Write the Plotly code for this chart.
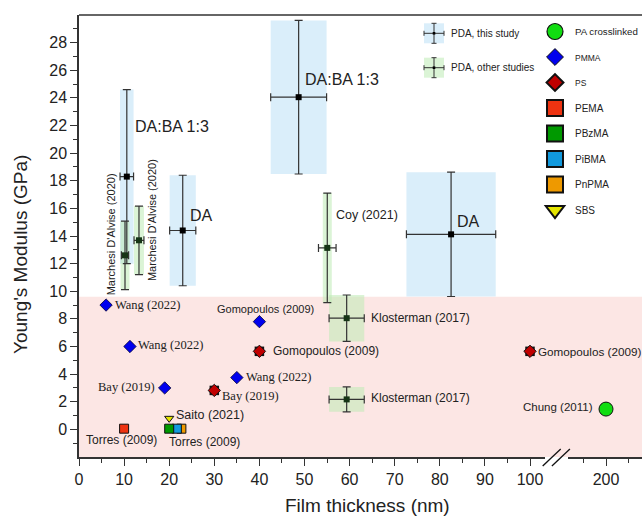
import plotly.graph_objects as go

# ---------------- data ----------------
# PDA, this study (points with x/y uncertainty)
study_labels = ["DA:BA 1:3", "DA", "DA:BA 1:3", "DA"]
study_x = [10.6, 23.0, 48.7, 82.5]
study_y = [18.3, 14.4, 24.05, 14.12]
study_xerr = [1.5, 2.9, 6.2, 9.9]
study_yerr = [6.3, 4.0, 5.56, 4.5]

# PDA, other studies
other_labels = ["Marchesi D'Alvise (2020)", "Marchesi D'Alvise (2020)", "Coy (2021)",
                "Klosterman (2017)", "Klosterman (2017)"]
other_x = [10.2, 13.3, 55.05, 59.35, 59.35]
other_y = [12.6, 13.69, 13.14, 8.05, 2.17]
other_xerr = [0.8, 1.1, 1.95, 3.9, 3.9]
other_yerr = [2.48, 2.48, 3.97, 1.68, 0.9]
other_box_halfwidth = [1.0, 1.1, 1.0, 3.9, 3.9]

# Other polymers
pmma_x = [6, 11.3, 19, 35, 40]
pmma_y = [9.0, 6.0, 3.0, 3.75, 7.8]
pmma_labels = ["Wang (2022)", "Wang (2022)", "Bay (2019)", "Wang (2022)", "Gomopoulos (2009)"]

ps_x = [40, 30, 100]
ps_y = [5.65, 2.82, 5.65]
ps_labels = ["Gomopoulos (2009)", "Bay (2019)", "Gomopoulos (2009)"]

pema_x, pema_y = [10], [0.05]
pbzma_x, pbzma_y = [20], [0.05]
pibma_x, pibma_y = [21.7], [0.05]
pnpma_x, pnpma_y = [22.7], [0.05]
torres_label = "Torres (2009)"

sbs_x, sbs_y = [20], [0.8]
sbs_label = "Saito (2021)"

pa_x, pa_y = [200], [1.47]
pa_label = "Chung (2011)"

x_ticks_main = list(range(0, 101, 10))
x_minor_main = list(range(5, 100, 10))
x_ticks_break = [200]
x_minor_break = [195, 205]
y_ticks = list(range(0, 29, 2))
y_minor = list(range(-1, 30, 2))

# ---------------- style ----------------
SANS = "Liberation Sans, Arial, sans-serif"
SERIF = "Liberation Serif, Times New Roman, serif"
INK = "#222222"
AX = "#333333"
BLUE_BOX = "#daeefa"
GREEN_BOX = "rgba(190,235,180,0.55)"
PINK = "#fce6e4"

W, H = 642, 516
ML, MR, MT, MB = 79, 0, 15, 59
PW, PH = W - ML - MR, H - MT - MB
PX_PER_UNIT = 4.51
BREAK_L, BREAK_R = 545, 568   # pixel edges of axis break
X1_END = (BREAK_L - ML) / PX_PER_UNIT
X2_START = 200 - (606 - BREAK_R) / PX_PER_UNIT
X2_END = 200 + (W - MR - 606) / PX_PER_UNIT


def px(xp):
    return (xp - ML) / PW


def py(yp):
    return (MT + PH - yp) / PH


fig = go.Figure()
shapes = []
annotations = []

# pink background region (other polymers)
shapes.append(dict(type="rect", xref="paper", yref="y", x0=0, x1=1, y0=-2, y1=9.6,
                   fillcolor=PINK, line=dict(width=0), layer="below"))

# uncertainty boxes
for x, y, dx, dy in zip(study_x, study_y, study_xerr, study_yerr):
    shapes.append(dict(type="rect", xref="x", yref="y", x0=x - dx, x1=x + dx, y0=y - dy, y1=y + dy,
                       fillcolor=BLUE_BOX, line=dict(width=0), layer="below"))
for x, y, dx, dy in zip(other_x, other_y, other_box_halfwidth, other_yerr):
    shapes.append(dict(type="rect", xref="x", yref="y", x0=x - dx, x1=x + dx, y0=y - dy, y1=y + dy,
                       fillcolor=GREEN_BOX, line=dict(width=0), layer="below"))

err_style = dict(color=AX, thickness=1.2, width=4)

fig.add_trace(go.Scatter(
    x=study_x, y=study_y, mode="markers", showlegend=False,
    marker=dict(symbol="square", size=6, color="#000000"),
    error_x=dict(type="data", array=study_xerr, **err_style),
    error_y=dict(type="data", array=study_yerr, **err_style)))
fig.add_trace(go.Scatter(
    x=other_x, y=other_y, mode="markers", showlegend=False,
    marker=dict(symbol="square", size=6, color="#163516"),
    error_x=dict(type="data", array=other_xerr, **err_style),
    error_y=dict(type="data", array=other_yerr, **err_style)))

# polymers (data traces)
fig.add_trace(go.Scatter(x=pmma_x, y=pmma_y, mode="markers", showlegend=False,
                         marker=dict(symbol="diamond", size=9.5, color="#0000ee",
                                     line=dict(color="#000033", width=0.8))))
fig.add_trace(go.Scatter(x=ps_x, y=ps_y, mode="markers", showlegend=False,
                         marker=dict(symbol="square", size=9.5, color="#111111")))
fig.add_trace(go.Scatter(x=ps_x, y=ps_y, mode="markers", showlegend=False,
                         marker=dict(symbol="diamond", size=9.5, color="#c00000",
                                     line=dict(color="#111111", width=1))))
sq_line = dict(color="#111111", width=1)
fig.add_trace(go.Scatter(x=pema_x, y=pema_y, mode="markers", showlegend=False,
                         marker=dict(symbol="square", size=9, color="#ee3311", line=sq_line)))
fig.add_trace(go.Scatter(x=pnpma_x, y=pnpma_y, mode="markers", showlegend=False,
                         marker=dict(symbol="square", size=9, color="#ee9900", line=sq_line)))
fig.add_trace(go.Scatter(x=pibma_x, y=pibma_y, mode="markers", showlegend=False,
                         marker=dict(symbol="square", size=9, color="#1199dd", line=sq_line)))
fig.add_trace(go.Scatter(x=pbzma_x, y=pbzma_y, mode="markers", showlegend=False,
                         marker=dict(symbol="square", size=9, color="#009900", line=sq_line)))
fig.add_trace(go.Scatter(x=sbs_x, y=sbs_y, mode="markers", showlegend=False,
                         marker=dict(symbol="triangle-down", size=8, color="#e5e500",
                                     line=dict(color="#111111", width=1))))
fig.add_trace(go.Scatter(x=pa_x, y=pa_y, mode="markers", showlegend=False, xaxis="x2",
                         marker=dict(symbol="circle", size=14, color="#11dd11",
                                     line=dict(color="#111111", width=1))))

# legend-only entries (larger symbols, as in the reference legend)
legend_items = [
    ("PA crosslinked", 9.7, "circle", 16, "#11dd11", 1.2),
    ("PMMA", 8.5, "diamond", 13, "#0000ee", 1),
    ("PS", 8.5, "diamond", 13, "#c00000", 2),
    ("PEMA", 10, "square", 16, "#ee3311", 2),
    ("PBzMA", 10, "square", 16, "#009900", 2),
    ("PiBMA", 10, "square", 16, "#1199dd", 2),
    ("PnPMA", 10, "square", 16, "#ee9900", 2),
    ("SBS", 10, "triangle-down", 16, "#e5e500", 2),
]
for i, (name, fs, sym, size, col, lw) in enumerate(legend_items):
    fig.add_trace(go.Scatter(
        x=[None], y=[None], mode="markers", legendgroup=f"g{i}",
        name=f"<span style='font-size:{fs}px'>{name}</span>",
        marker=dict(symbol=sym, size=size, color=col, line=dict(color="#111111", width=lw))))


# ---------------- labels ----------------
def label(text, x, y, dx, dy, anchor="left", size=12, family=SANS, xref="x", angle=0):
    annotations.append(dict(text=text, x=x, y=y, xref=xref, yref="y", xanchor=anchor,
                            yanchor="middle", xshift=dx, yshift=dy, showarrow=False,
                            textangle=angle, font=dict(family=family, size=size, color=INK)))


study_off = [(6, 50), (5, 15), (4, 18), (4, 13)]
for t, x, y, (dx, dy) in zip(study_labels, study_x, study_y, study_off):
    label(t, x, y, dx, dy, size=16)

other_off = [(-14.5, 20.5, "center", -90, 11), (12.3, 20.5, "center", -90, 11),
             (7, 33, "left", 0, 12.5), (22, 0, "left", 0, 12), (22, 1, "left", 0, 12)]
for t, x, y, (dx, dy, a, ang, fs) in zip(other_labels, other_x, other_y, other_off):
    label(t, x, y, dx, dy, anchor=a, angle=ang, size=fs)

pmma_off = [(6.5, 0, "left", SERIF, 12.5), (6.5, 2, "left", SERIF, 12.5), (-8, 1, "right", SERIF, 12.5),
            (7, 1, "left", SERIF, 12.5), (5.6, 13, "center", SANS, 11)]
for t, x, y, (dx, dy, a, fam, fs) in zip(pmma_labels, pmma_x, pmma_y, pmma_off):
    label(t, x, y, dx, dy, anchor=a, family=fam, size=fs)

ps_off = [(12, 0, SANS, 12), (6, -6, SERIF, 12.5), (5.5, 0, SANS, 11.7)]
for t, x, y, (dx, dy, fam, fs) in zip(ps_labels, ps_x, ps_y, ps_off):
    label(t, x, y, dx, dy, family=fam, size=fs)

label(torres_label, pema_x[0], pema_y[0], -2.6, -11, anchor="center", size=12)
label(torres_label, pbzma_x[0], pbzma_y[0], -2.5, -13, anchor="left", size=12)
label(sbs_label, sbs_x[0], sbs_y[0], 5, 3, size=12.5)
label(pa_label, pa_x[0], pa_y[0], -11, 2, anchor="right", size=11.5, xref="x2")

# axis titles
annotations.append(dict(text="Film thickness (nm)", x=px(367), y=py(505), xref="paper", yref="paper",
                        xanchor="center", yanchor="middle", showarrow=False,
                        font=dict(family=SANS, size=19, color=INK)))
annotations.append(dict(text="Young's Modulus (GPa)", x=px(20), y=py(255), xref="paper", yref="paper",
                        xanchor="center", yanchor="middle", showarrow=False, textangle=-90,
                        font=dict(family=SANS, size=19, color=INK)))

# manual legend for the PDA groups (box + error cross)
for (cy, fill, txt) in [(33.3, BLUE_BOX, "PDA, this study"), (67.7, GREEN_BOX, "PDA, other studies")]:
    cx = 434
    shapes.append(dict(type="rect", xref="paper", yref="paper", x0=px(424), x1=px(444),
                       y0=py(cy + 10), y1=py(cy - 10), fillcolor=fill, line=dict(width=0)))
    lst = dict(color=AX, width=1)
    shapes.append(dict(type="line", xref="paper", yref="paper", x0=px(cx - 10), x1=px(cx + 10),
                       y0=py(cy), y1=py(cy), line=lst))
    shapes.append(dict(type="line", xref="paper", yref="paper", x0=px(cx), x1=px(cx),
                       y0=py(cy - 10), y1=py(cy + 10), line=lst))
    for ex in (cx - 10, cx + 10):
        shapes.append(dict(type="line", xref="paper", yref="paper", x0=px(ex), x1=px(ex),
                           y0=py(cy - 2.5), y1=py(cy + 2.5), line=lst))
    for ey in (cy - 10, cy + 10):
        shapes.append(dict(type="line", xref="paper", yref="paper", x0=px(cx - 2.5), x1=px(cx + 2.5),
                           y0=py(ey), y1=py(ey), line=lst))
    shapes.append(dict(type="rect", xref="paper", yref="paper", x0=px(cx - 1.3), x1=px(cx + 1.3),
                       y0=py(cy + 1.3), y1=py(cy - 1.3), fillcolor="#000000", line=dict(width=0)))
    annotations.append(dict(text=txt, x=px(449), y=py(cy), xref="paper", yref="paper",
                            xanchor="left", yanchor="middle", showarrow=False,
                            font=dict(family=SANS, size=10, color=INK)))

# top frame line
shapes.append(dict(type="line", xref="paper", yref="paper", x0=0, x1=1, y0=1, y1=1,
                   line=dict(color=AX, width=1.5)))
# axis break marks
for off in (0, 9.2):
    shapes.append(dict(type="line", xref="paper", yref="paper",
                       x0=px(542.7 + off), x1=px(560.7 + off), y0=py(466), y1=py(449),
                       line=dict(color="#111111", width=1.3)))

axis_common = dict(showline=True, linecolor=AX, linewidth=1.5, ticks="outside", ticklen=7,
                   tickwidth=1.3, tickcolor=AX, showgrid=False, zeroline=False,
                   tickfont=dict(family=SANS, size=16, color=INK))

fig.update_layout(
    width=W, height=H, margin=dict(l=ML, r=MR, t=MT, b=MB, autoexpand=False),
    plot_bgcolor="white", paper_bgcolor="white",
    shapes=shapes, annotations=annotations,
    xaxis=dict(domain=[0, px(BREAK_L)], range=[0, X1_END], tickmode="array", tickvals=x_ticks_main,
               minor=dict(tickmode="array", tickvals=x_minor_main, ticks="outside", ticklen=4,
                          tickwidth=1.2, tickcolor=AX),
               anchor="y", **axis_common),
    xaxis2=dict(domain=[px(BREAK_R), 1], range=[X2_START, X2_END], tickmode="array",
                tickvals=x_ticks_break,
                minor=dict(tickmode="array", tickvals=x_minor_break, ticks="outside", ticklen=4,
                           tickwidth=1.2, tickcolor=AX),
                anchor="y", **axis_common),
    yaxis=dict(range=[-2, 30], tickmode="array", tickvals=y_ticks,
               minor=dict(tickmode="array", tickvals=y_minor, ticks="outside", ticklen=4,
                          tickwidth=1.2, tickcolor=AX),
               **axis_common),
    legend=dict(x=px(535), y=py(17), xanchor="left", yanchor="top", bgcolor="rgba(0,0,0,0)",
                traceorder="grouped", tracegroupgap=6.5, itemsizing="trace",
                font=dict(family=SANS, size=10, color=INK)),
)

fig.write_html("out.html", config={"displayModeBar": False},
               post_script="document.body.style.margin='0px';")
